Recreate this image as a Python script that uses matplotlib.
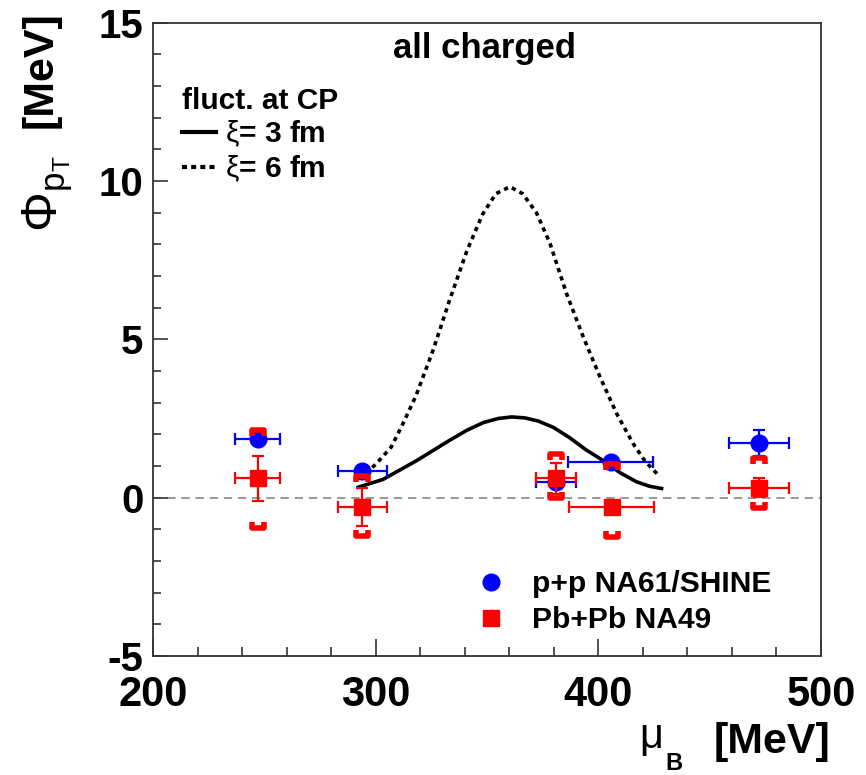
import matplotlib
matplotlib.use("Agg")
import matplotlib.pyplot as plt
from matplotlib.lines import Line2D
from matplotlib.path import Path
from matplotlib.ticker import MultipleLocator

plt.rcParams["font.family"] = ["Liberation Sans", "DejaVu Sans"]
plt.rcParams["mathtext.fontset"] = "custom"
plt.rcParams["mathtext.rm"] = "Liberation Sans"
plt.rcParams["mathtext.it"] = "Liberation Sans:italic"
plt.rcParams["mathtext.bf"] = "Liberation Sans:bold"
plt.rcParams["mathtext.default"] = "rm"
plt.rcParams["axes.unicode_minus"] = False

# p+p NA61/SHINE
pp_x = [247, 294, 381, 405.6, 472]
pp_y = [1.85, 0.85, 0.50, 1.13, 1.73]
pp_xerr = [10, 11, 9, 19, 13.5]
pp_yerr = [0.15, 0.1, 0.1, 0.1, 0.42]

# Pb+Pb NA49 (stat + sys)
pb_x = [247, 294, 381, 406, 472]
pb_y = [0.61, -0.31, 0.61, -0.30, 0.31]
pb_xerr = [10, 11, 9, 19, 13.5]
pb_yerr = [0.7, 0.6, 0.5, 0.15, 0.3]
pb_sys_lo = [1.56, 0.90, 0.62, 0.94, 0.65]
pb_sys_hi = [1.52, 0.99, 0.77, 1.37, 0.93]

# critical point fluctuations
xi3_x = [292.2, 303.4, 318.4, 326, 333.4, 341, 348.3, 355, 361, 367, 373, 379.8, 387, 394.7, 402.2, 409.7, 417.2, 423, 428.4]
xi3_y = [0.33, 0.58, 1.17, 1.50, 1.82, 2.13, 2.37, 2.50, 2.55, 2.52, 2.42, 2.22, 1.90, 1.50, 1.17, 0.79, 0.50, 0.36, 0.29]
xi6_x = [292.5, 300, 307, 312, 318, 326, 333, 341, 348, 354, 360.3, 366, 372.2, 378.3, 385.7, 393.2, 400.7, 408.2, 415.6, 421, 427.7]
xi6_y = [0.6, 1.05, 1.6, 2.3, 3.2, 4.7, 6.2, 7.8, 8.95, 9.6, 9.82, 9.6, 9.0, 8.03, 6.45, 5.08, 3.82, 2.66, 1.71, 1.15, 0.66]

W, H = 866, 775
fig = plt.figure(figsize=(W / 100, H / 100), dpi=100)
ax = fig.add_axes([153 / W, (H - 656) / H, (821 - 153) / W, (656 - 22.7) / H])

ax.axhline(0, color="#888888", lw=1.2, ls=(0, (5, 3.5)), zorder=1)
ax.plot(xi3_x, xi3_y, color="black", lw=2.6, zorder=2)
ax.plot(xi6_x, xi6_y, color="black", lw=2.6, ls=(0, (1.2, 1.2)), zorder=2)

ax.errorbar(pp_x, pp_y, xerr=pp_xerr, yerr=pp_yerr, fmt="o", color="blue", ms=12,
            capsize=4.5, elinewidth=1.6, capthick=1.6, zorder=3)

lo_mark = Path([(-1, 1), (-1, 0), (1, 0), (1, 1)])
hi_mark = Path([(-1, -1), (-1, 0), (1, 0), (1, -1)])
ax.plot(pb_x, [y - s for y, s in zip(pb_y, pb_sys_lo)], ls="none", marker=lo_mark,
        ms=8, mew=4, mec="red", mfc="none", zorder=4)
ax.plot(pb_x, [y + s for y, s in zip(pb_y, pb_sys_hi)], ls="none", marker=hi_mark,
        ms=8, mew=4, mec="red", mfc="none", zorder=4)
ax.errorbar(pb_x, pb_y, xerr=pb_xerr, yerr=pb_yerr, fmt="s", color="red", ms=12,
            capsize=4.5, elinewidth=1.6, capthick=1.6, zorder=5)

ax.set_xlim(200, 500)
ax.set_ylim(-5, 15)
ax.xaxis.set_major_locator(MultipleLocator(100))
ax.xaxis.set_minor_locator(MultipleLocator(20))
ax.yaxis.set_major_locator(MultipleLocator(5))
ax.yaxis.set_minor_locator(MultipleLocator(1))
ax.tick_params(axis="both", which="both", direction="in", color="#333333", width=1.2)
ax.tick_params(axis="x", which="major", length=12, pad=14)
ax.tick_params(axis="x", which="minor", length=6.5)
ax.tick_params(axis="y", which="major", length=11, pad=7)
ax.tick_params(axis="y", which="minor", length=5.8)
for lab in ax.get_xticklabels():
    lab.set_fontsize(30)
    lab.set_fontweight("bold")
for lab in ax.get_yticklabels():
    lab.set_fontsize(29)
    lab.set_fontweight("bold")
for sp in ax.spines.values():
    sp.set_linewidth(1.3)
    sp.set_color("#333333")

ax.text(0.497, 0.945, "all charged", transform=ax.transAxes, ha="center", va="baseline",
        fontsize=25, fontweight="bold")

leg1 = ax.legend(handles=[Line2D([], [], color="black", lw=3),
                          Line2D([], [], color="black", lw=3, ls=(0, (1.2, 1.0)))],
                 labels=[r"$\xi$= 3 fm", r"$\xi$= 6 fm"], title="fluct. at CP",
                 loc="upper left", bbox_to_anchor=(182 / W, 1 - 87 / H),
                 bbox_transform=fig.transFigure, frameon=False, borderpad=0,
                 borderaxespad=0, handlelength=1.15, handletextpad=0.3,
                 labelspacing=0.13, alignment="left",
                 prop={"size": 21.5, "weight": "bold"},
                 title_fontproperties={"size": 21.5, "weight": "bold"})
ax.add_artist(leg1)

ax.legend(handles=[Line2D([], [], ls="none", marker="o", color="blue", ms=12),
                   Line2D([], [], ls="none", marker="s", color="red", ms=12)],
          labels=["p+p NA61/SHINE", "Pb+Pb NA49"],
          loc="upper left", bbox_to_anchor=(476 / W, 1 - 570 / H),
          bbox_transform=fig.transFigure, frameon=False, borderpad=0,
          borderaxespad=0, handlelength=1.0, handletextpad=0.85,
          labelspacing=0.27, prop={"size": 21.6, "weight": "bold"})

# axis titles
fig.text(830 / W, (H - 753) / H, "[MeV]", ha="right", va="baseline", fontsize=31,
         fontweight="bold")
fig.text(639 / W, (H - 748) / H, "\u03bc", ha="left", va="baseline", fontsize=30)
fig.text(665 / W, 0.0, "B", ha="left", va="bottom", fontsize=17, fontweight="bold")
fig.text(41 / W, 1 - 11 / H, "[MeV]", ha="center", va="top", rotation=90, fontsize=31,
         fontweight="bold")
fig.text(48 / W, 1 - 155 / H, r"$\Phi_{p_{T}}$", ha="center", va="top", rotation=90,
         fontsize=36)

fig.savefig("out.png", dpi=100)
